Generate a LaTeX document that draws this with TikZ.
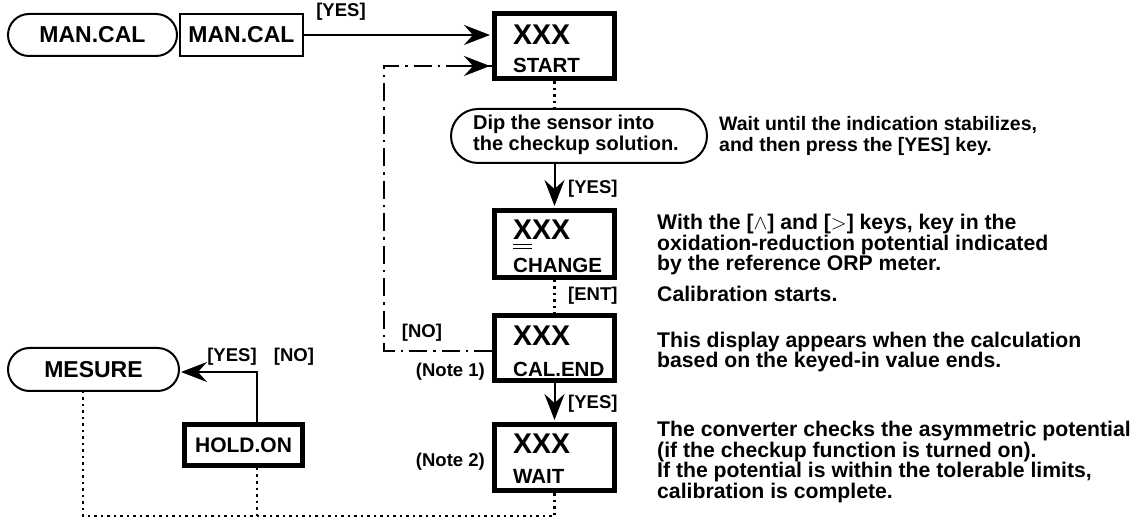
\documentclass[tikz,border=0pt]{standalone}
\usepackage{fontspec}
\setmainfont{Liberation Sans}
\usetikzlibrary{arrows.meta,calc}
\begin{document}
\begin{tikzpicture}[x=1pt,y=-1pt,
  thinl/.style={line width=2pt},
  disp/.style={draw, line width=5pt, minimum width=120pt, minimum height=65pt, inner sep=0pt},
  term/.style={draw, line width=2pt, inner sep=0pt, font=\fontsize{23}{23}\selectfont\bfseries},
  holdbox/.style={draw, line width=5pt, inner sep=0pt, font=\fontsize{21}{21}\selectfont\bfseries},
  big/.style={font=\fontsize{28.5}{28.5}\selectfont\bfseries, inner sep=0pt, anchor=west},
  sub/.style={font=\fontsize{20.5}{20.5}\selectfont\bfseries, inner sep=0pt, anchor=west},
  lab/.style={font=\fontsize{18.5}{18.5}\selectfont\bfseries, inner sep=0pt},
  body/.style={font=\fontsize{21.2}{20.5}\selectfont\bfseries, inner sep=0pt, anchor=west, align=left},
  bodys/.style={font=\fontsize{19.5}{21.5}\selectfont\bfseries, inner sep=0pt, anchor=west, align=left},
  arr/.style={thinl, -{Stealth[length=26pt,width=20pt,inset=9pt]}},
  dotl/.style={line width=2.5pt, dash pattern=on 2.5pt off 4pt},
  dashdotl/.style={line width=2pt, dash pattern=on 18pt off 6pt on 2.5pt off 6pt},
]
\useasboundingbox (0,0) rectangle (1141,518);

% top row
\node[term, rounded corners=21pt, minimum width=169pt, minimum height=42pt] (man1) at (92.5,35) {MAN.CAL};
\node[term, minimum width=123pt, minimum height=42pt] (man2) at (241.5,35) {MAN.CAL};

% display boxes
\node[disp] (start) at (554.5,46.5) {};
\node[big] (xs) at (513,35) {XXX};
\node[sub] (ls) at (513,65) {START};

\node[term, rounded corners=27pt, minimum width=256pt, minimum height=54pt] (dip) at (579,136) {};
\node[bodys, font=\fontsize{20}{20.5}\selectfont\bfseries] (diptext) at (473,135) {Dip the sensor into\\the checkup solution.};

\node[disp, minimum height=67pt] (change) at (554.5,244) {};
\node[big] (xc) at (513,230) {XXX};
\node[sub] (lc) at (513,265) {CHANGE};
\draw[line width=1pt] (513,245) -- (532,245) (513,248.5) -- (532,248.5);

\node[disp] (calend) at (554.5,348) {};
\node[big] (xe) at (513,336) {XXX};
\node[sub] (le) at (513,369) {CAL.END};

\node[disp, minimum height=66pt] (wait) at (554.5,457.5) {};
\node[big] (xw) at (513,444) {XXX};
\node[sub] (lw) at (513,476) {WAIT};

% bottom-left
\node[term, rounded corners=21.5pt, minimum width=171pt, minimum height=43pt] (mesure) at (93.5,369.5) {MESURE};
\node[holdbox, minimum width=118pt, minimum height=41pt] (hold) at (243.5,445) {HOLD.ON};

% connectors
\draw[arr, shorten >=2pt] (man2.east) -- (man2.east -| start.west);
\node[lab] (y1) at (341,12) {[YES]};

\draw[dotl] (start.south) -- (start.south |- dip.north);
\draw[arr, shorten >=2pt] (start.south |- dip.south) -- (change.north);
\node[lab, anchor=west] (y2) at (568,189) {[YES]};

\draw[dotl] (change.south) -- (calend.north);
\node[lab, anchor=west] (ent) at (568,296) {[ENT]};

\draw[arr, shorten >=2pt] (calend.south) -- (wait.north);
\node[lab, anchor=west] (y3) at (568,404) {[YES]};

\coordinate (nc) at (384,351);
\coordinate (rc) at (384,66);
\draw[dashdotl] (calend.west |- nc) -- (nc) -- (rc) -- (rc -| start.west);
\draw[arr, shorten >=2pt] ($(rc -| start.west)+(-30,0)$) -- (rc -| start.west);
\node[lab] (no1) at (422,333) {[NO]};
\node[lab, anchor=east] (n1) at (485,372) {(Note 1)};
\node[lab, anchor=east] (n2) at (485,462) {(Note 2)};

\coordinate (hx) at (257,372);
\draw[arr, shorten >=1pt] (hx |- hold.north) -- (hx) -- (mesure.east |- hx);
\node[lab] (y4) at (232,357) {[YES]};
\node[lab] (no2) at (294,357) {[NO]};

\coordinate (bl) at (83,516);
\draw[dotl] (wait.south) -- (wait.south |- bl) -- (bl) -- (bl |- mesure.south);
\draw[dotl] (hx |- hold.south) -- (hx |- bl);

% explanations
\node[bodys] (t1) at (719,136) {Wait until the indication stabilizes,\\and then press the [YES] key.};
\node[body] (t2) at (657,245) {With the [$\wedge$] and [$>$] keys, key in the\\oxidation-reduction potential indicated\\by the reference ORP meter.};
\node[body] (t3) at (657,294) {Calibration starts.};
\node[body] (t4) at (657,352) {This display appears when the calculation\\based on the keyed-in value ends.};
\node[body] (t5) at (657,462) {The converter checks the asymmetric potential\\(if the checkup function is turned on).\\If the potential is within the tolerable limits,\\calibration is complete.};
\end{tikzpicture}
\end{document}
